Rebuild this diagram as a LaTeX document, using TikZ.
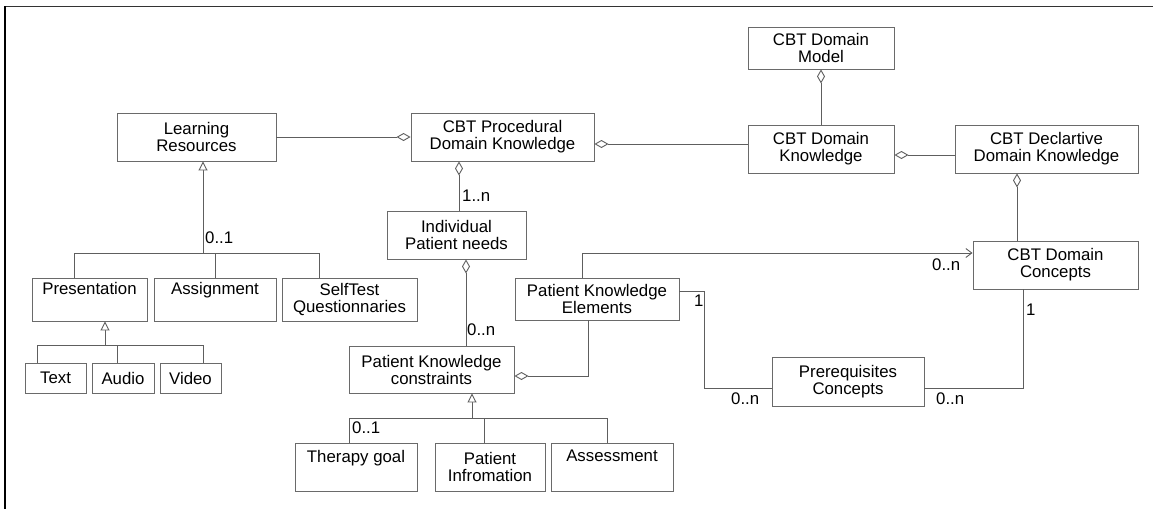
\documentclass[tikz,border=0pt]{standalone}
\usepackage{fontspec}
\setmainfont{Liberation Sans}
\usetikzlibrary{arrows.meta}
\definecolor{boxline}{HTML}{6A6A6A}
\definecolor{connline}{HTML}{5E5E5E}
\definecolor{frameline}{HTML}{333333}
\begin{document}
\begin{tikzpicture}[x=1pt,y=-1pt,
  txt/.style={font=\fontsize{16.8}{17}\selectfont},
  box/.style={txt,draw=boxline,line width=0.9pt,fill=white,inner sep=0pt,align=center},
  conn/.style={draw=connline,line width=0.9pt},
  agg/.style={conn,{Diamond[open,fill=white,length=14pt,width=8pt]}-},
  gen/.style={conn,-{Triangle[open,fill=white,length=9pt,width=9pt]}},
  nav/.style={conn,-{Straight Barb[length=6pt,width=9pt]}},
  mult/.style={txt,inner sep=0pt}]

\useasboundingbox (0,0) rectangle (1153,509);

% frame
\draw[frameline,line width=1.5pt] (5,6.5) -- (1153,6.5);
\draw[black,line width=1.6pt] (5,6) -- (5,509);

% classes
\node[box,minimum width=159pt,minimum height=48pt] (lr) at (196.5,137) {Learning\\Resources};
\node[box,minimum width=183pt,minimum height=48pt] (proc) at (502.5,137) {CBT Procedural\\Domain Knowledge};
\node[box,minimum width=146pt,minimum height=42pt] (dm) at (821,48) {CBT Domain\\Model};
\node[box,minimum width=146pt,minimum height=48pt] (dk) at (821,149) {CBT Domain\\Knowledge};
\node[box,minimum width=183pt,minimum height=48pt] (decl) at (1046.5,149) {CBT Declartive\\Domain Knowledge};
\node[box,minimum width=165pt,minimum height=48pt] (conc) at (1055.5,265) {CBT Domain\\Concepts};
\node[box,minimum width=139pt,minimum height=48pt] (ipn) at (456.5,235) {Individual\\Patient needs};
\node[box,minimum width=115pt,minimum height=43pt] (pres) at (89.5,299.5) {Presentation\\\strut};
\node[box,minimum width=122pt,minimum height=43pt] (assign) at (215,299.5) {Assignment\\\strut};
\node[box,minimum width=135pt,minimum height=43pt] (self) at (349.5,299.5) {SelfTest\\Questionnaries};
\node[box,minimum width=61pt,minimum height=30pt] (text) at (55.5,378) {Text};
\node[box,minimum width=62pt,minimum height=30pt] (audio) at (123,378) {Audio};
\node[box,minimum width=61pt,minimum height=30pt] (video) at (190.5,378) {Video};
\node[box,minimum width=165pt,minimum height=47pt] (pkc) at (431.5,369.5) {Patient Knowledge\\constraints};
\node[box,minimum width=164pt,minimum height=42pt] (pke) at (597,299) {Patient Knowledge\\Elements};
\node[box,minimum width=152pt,minimum height=49pt] (prereq) at (848,381.5) {Prerequisites\\Concepts};
\node[box,minimum width=122pt,minimum height=48pt] (therapy) at (356,467) {Therapy goal\\\strut};
\node[box,minimum width=110pt,minimum height=48pt] (pinfo) at (490,467) {Patient\\Infromation};
\node[box,minimum width=122pt,minimum height=48pt] (assess) at (612,467) {Assessment\\\strut};

% aggregations
\draw[agg] (proc.west) -- (lr.east);
\draw[agg] ([yshift=-7pt]proc.east) -- ([yshift=-7pt]proc.east -| dk.west);
\draw[agg] (dm.south) -- (dk.north);
\draw[agg] ([yshift=-6pt]dk.east) -- ([yshift=-6pt]dk.east -| decl.west);
\draw[agg] ([xshift=-29.5pt]decl.south) -- ([xshift=-29.5pt]decl.south |- conc.north);
\draw[agg] ([xshift=-43.5pt]proc.south) -- ([xshift=-43.5pt]proc.south |- ipn.north);
\draw[agg] ([xshift=9.5pt]ipn.south) -- ([xshift=9.5pt]ipn.south |- pkc.north);
\draw[agg] ([yshift=-6.5pt]pkc.east) -| ([xshift=-9pt]pke.south);

% associations
\draw[nav] ([xshift=-15pt]pke.north) |- ([yshift=12pt]conc.west);
\draw[conn] ([yshift=8pt]pke.east) -- ++(25,0) |- ([yshift=-6.5pt]prereq.west);
\draw[conn] ([yshift=-6.5pt]prereq.east) -| ([xshift=-32.5pt]conc.south);

% generalization: learning resources
\coordinate (g1) at (203,253);
\draw[gen] (g1) -- (g1 |- lr.south);
\draw[conn] ([xshift=-15.5pt]pres.north) |- ([xshift=-30.5pt]self.north |- g1) -- ([xshift=-30.5pt]self.north);
\draw[conn] (assign.north) -- (assign.north |- g1);

% generalization: presentation
\coordinate (g2) at (105,345);
\draw[gen] (g2) -- (g2 |- pres.south);
\draw[conn] ([xshift=-18.5pt]text.north) |- ([xshift=12.5pt]video.north |- g2) -- ([xshift=12.5pt]video.north);
\draw[conn] ([xshift=-6pt]audio.north) -- ([xshift=-6pt]audio.north |- g2);

% generalization: patient knowledge constraints
\coordinate (g3) at (472,418);
\draw[gen] (g3) -- (g3 |- pkc.south);
\draw[conn] ([xshift=-7pt]therapy.north) |- ([xshift=-5pt]assess.north |- g3) -- ([xshift=-5pt]assess.north);
\draw[conn] ([xshift=-6pt]pinfo.north) -- ([xshift=-6pt]pinfo.north |- g3);

% multiplicities
\node[mult,anchor=west] (m1) at (205,238) {0..1};
\node[mult,anchor=west] (m2) at (462,196) {1..n};
\node[mult,anchor=west] (m3) at (467,330) {0..n};
\node[mult,anchor=west] (m4) at (932,265) {0..n};
\node[mult,anchor=west] (m5) at (694,301) {1};
\node[mult,anchor=west] (m6) at (731,399) {0..n};
\node[mult,anchor=west] (m7) at (936,399) {0..n};
\node[mult,anchor=west] (m8) at (1026,310) {1};
\node[mult,anchor=west] (m9) at (352,428) {0..1};
\end{tikzpicture}
\end{document}
